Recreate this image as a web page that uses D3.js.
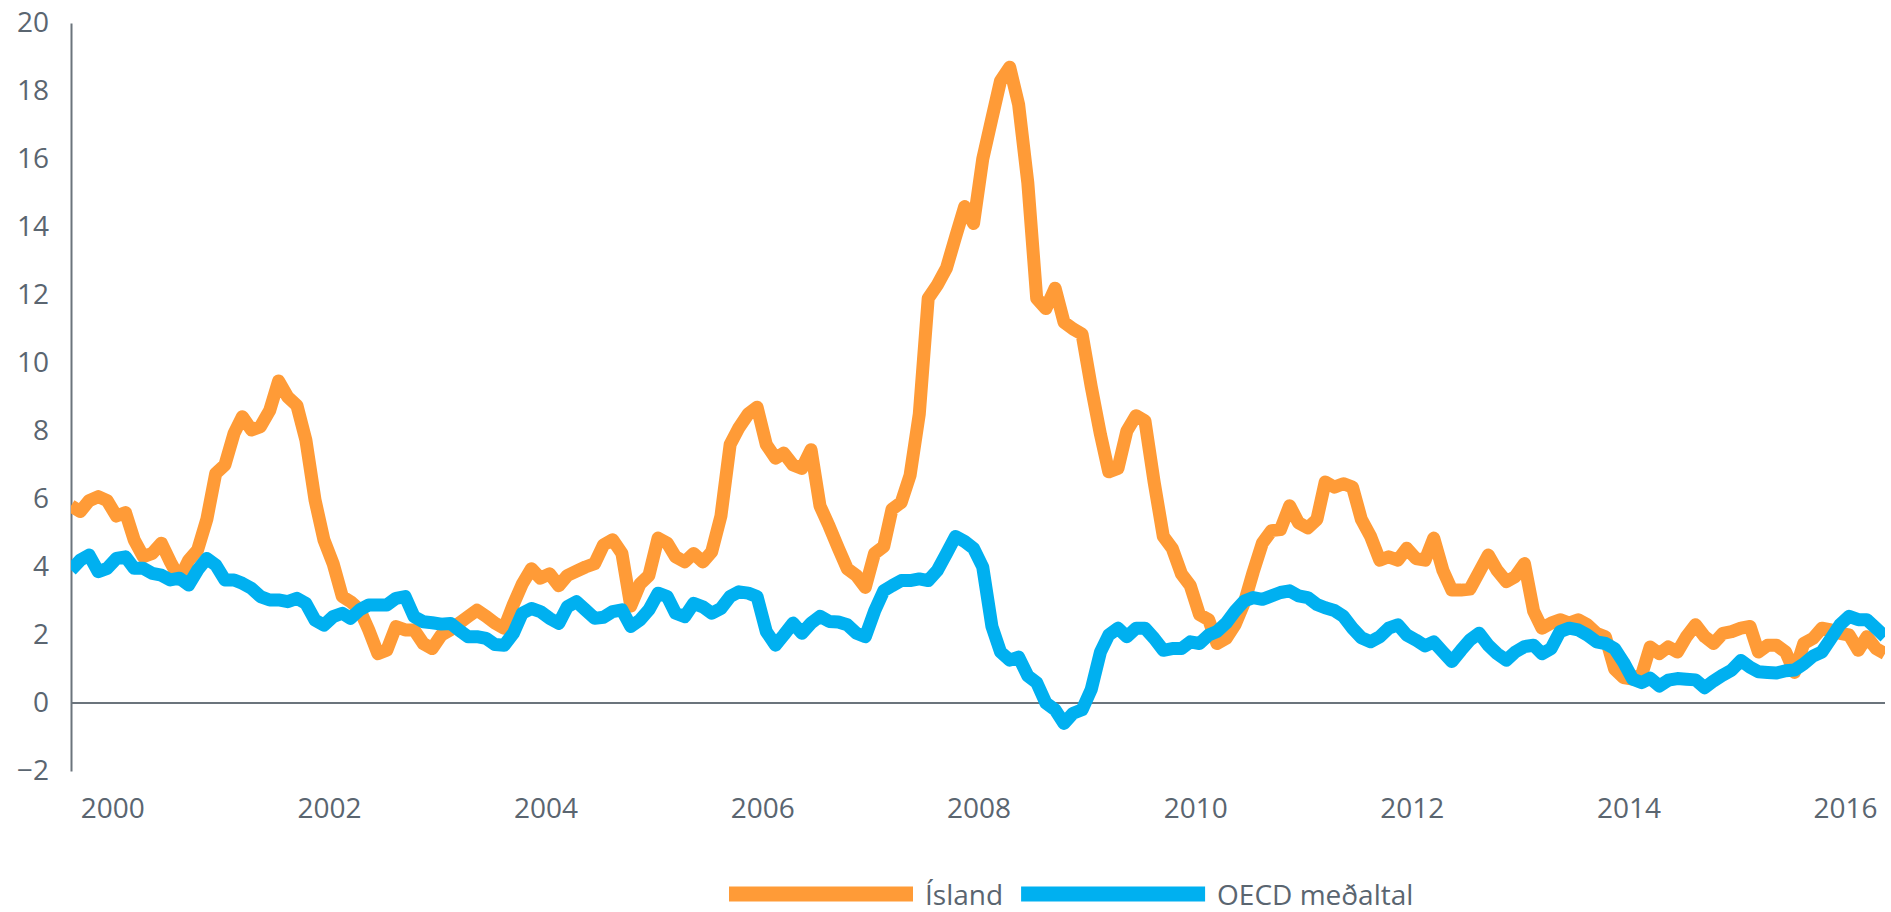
<!DOCTYPE html>
<html>
<head>
<meta charset="utf-8">
<script src="https://cdn.jsdelivr.net/npm/d3@7"></script>
<style>
  html, body { margin: 0; padding: 0; background: #fff; }
  svg { display: block; font-family: 'Open Sans', sans-serif; }
</style>
</head>
<body>
<div id="chart"></div>
<script>
// monthly series, first value is Aug 1999, last is May 2016
const firstMonth = new Date(1999, 7, 15)

const seriesNames = ['Ísland', 'OECD meðaltal']
const seriesColors = ['#FF9B37', '#00B0F0']
const yTicks = [-2, 0, 2, 4, 6, 8, 10, 12, 14, 16, 18, 20]

// Ísland, one row per year
const iceland = [
  5.8, 5.63, 5.95, 6.07, 5.95,
  5.5, 5.6, 4.8, 4.3, 4.4, 4.7, 4.15, 3.65, 4.2, 4.5, 5.4, 6.75,
  7.0, 7.93, 8.42, 8.03, 8.13, 8.6, 9.47, 9.0, 8.75, 7.74, 5.97, 4.8,
  4.1, 3.13, 2.98, 2.74, 2.15, 1.45, 1.55, 2.25, 2.15, 2.15, 1.75, 1.6,
  2.0, 2.15, 2.34, 2.54, 2.73, 2.55, 2.35, 2.2, 2.9, 3.5, 3.95, 3.67,
  3.8, 3.45, 3.75, 3.88, 4.0, 4.1, 4.65, 4.8, 4.4, 2.85, 3.5, 3.75,
  4.85, 4.7, 4.3, 4.15, 4.4, 4.15, 4.45, 5.5, 7.6, 8.1, 8.5, 8.7,
  7.6, 7.2, 7.35, 7.0, 6.9, 7.45, 5.8, 5.2, 4.55, 3.95, 3.75, 3.4,
  4.4, 4.6, 5.7, 5.9, 6.7, 8.5, 11.9, 12.3, 12.8, 13.7, 14.6, 14.1,
  16.0, 17.2, 18.3, 18.7, 17.6, 15.3, 11.9, 11.6, 12.2, 11.2, 11.0, 10.85,
  9.3, 7.9, 6.8, 6.9, 8.0, 8.45, 8.3, 6.5, 4.9, 4.55, 3.8, 3.45,
  2.6, 2.45, 1.75, 1.9, 2.3, 2.95, 3.85, 4.7, 5.07, 5.1, 5.8, 5.3,
  5.15, 5.4, 6.5, 6.35, 6.45, 6.35, 5.4, 4.9, 4.2, 4.3, 4.2, 4.55,
  4.25, 4.2, 4.85, 3.9, 3.32, 3.32, 3.35, 3.85, 4.35, 3.9, 3.57, 3.72,
  4.1, 2.7, 2.2, 2.35, 2.45, 2.35, 2.45, 2.3, 2.05, 1.95, 1.0, 0.75,
  0.7, 0.85, 1.65, 1.45, 1.65, 1.5, 1.95, 2.3, 1.95, 1.75, 2.05, 2.1,
  2.2, 2.25, 1.5, 1.7, 1.7, 1.5, 0.9, 1.75, 1.9, 2.2, 2.15, 2.05,
  2.0, 1.55, 1.95, 1.6, 1.45,
]

// OECD meðaltal, same months
const oecd = [
  3.91, 4.2, 4.35, 3.86, 3.96,
  4.25, 4.3, 3.96, 3.96, 3.81, 3.76, 3.62, 3.67, 3.47, 3.91, 4.25, 4.06,
  3.62, 3.62, 3.52, 3.37, 3.13, 3.03, 3.03, 2.98, 3.08, 2.93, 2.44, 2.29,
  2.54, 2.64, 2.49, 2.74, 2.88, 2.88, 2.88, 3.08, 3.13, 2.54, 2.39, 2.36,
  2.32, 2.34, 2.15, 1.95, 1.95, 1.9, 1.72, 1.7, 2.05, 2.64, 2.78, 2.69,
  2.49, 2.34, 2.83, 2.98, 2.74, 2.49, 2.52, 2.69, 2.74, 2.25, 2.44, 2.74,
  3.23, 3.13, 2.64, 2.54, 2.93, 2.83, 2.64, 2.78, 3.13, 3.27, 3.23, 3.13,
  2.1, 1.7, 2.0, 2.35, 2.05, 2.35, 2.55, 2.4, 2.38, 2.3, 2.05, 1.95,
  2.7, 3.3, 3.45, 3.6, 3.6, 3.65, 3.6, 3.9, 4.4, 4.9, 4.75, 4.55,
  4.0, 2.25, 1.5, 1.26, 1.35, 0.8, 0.6, 0.0, -0.2, -0.6, -0.3, -0.2,
  0.4, 1.5, 2.0, 2.2, 1.95, 2.2, 2.2, 1.9, 1.55, 1.6, 1.6, 1.8,
  1.75, 2.0, 2.1, 2.35, 2.7, 3.0, 3.1, 3.05, 3.15, 3.25, 3.3, 3.15,
  3.1, 2.9, 2.8, 2.72, 2.55, 2.2, 1.92, 1.8, 1.95, 2.2, 2.3, 2.0,
  1.85, 1.68, 1.8, 1.5, 1.22, 1.55, 1.85, 2.05, 1.7, 1.45, 1.26, 1.5,
  1.66, 1.7, 1.45, 1.6, 2.1, 2.2, 2.15, 2.0, 1.8, 1.75, 1.6, 1.2,
  0.7, 0.6, 0.73, 0.5, 0.67, 0.72, 0.7, 0.68, 0.45, 0.65, 0.82, 0.97,
  1.25, 1.05, 0.92, 0.9, 0.88, 0.95, 0.97, 1.15, 1.38, 1.5, 1.9, 2.3,
  2.55, 2.45, 2.45, 2.2, 1.95,
]

const series = [iceland, oecd]

const width = 1891
const height = 912
const margin = { top: 23, right: 6, bottom: 141, left: 71 }
const innerW = width - margin.left - margin.right
const innerH = height - margin.top - margin.bottom

const textColor = '#5A6570'
const axisColor = '#6B747C'

const dates = iceland.map((_, i) => d3.timeMonth.offset(firstMonth, i))

const svg = d3
  .select('#chart')
  .append('svg')
  .attr('width', width)
  .attr('height', height)

const chart = svg
  .append('g')
  .attr('transform', `translate(${margin.left},${margin.top})`)

// scales
const x = d3
  .scaleTime()
  .domain([dates[0], dates[dates.length - 1]])
  .range([0, innerW])

const y = d3.scaleLinear().domain([-2, 20]).range([innerH, 0])

// y axis, line plus labels
const yAxis = chart
  .append('g')
  .attr('class', 'y-axis')
  .call(
    d3.axisLeft(y).tickValues(yTicks).tickSize(0).tickSizeOuter(0).tickPadding(22),
  )
yAxis.select('.domain').attr('stroke', axisColor).attr('stroke-width', 2)
yAxis
  .selectAll('text')
  .style('font-size', '28px')
  .style('font-family', "'Open Sans', sans-serif")
  .attr('fill', textColor)
  .attr('dy', '0.3em')

// year labels under the plot
const xAxis = chart
  .append('g')
  .attr('class', 'x-axis')
  .attr('transform', `translate(0,${innerH})`)
  .call(
    d3
      .axisBottom(x)
      .ticks(d3.timeYear.every(2))
      .tickFormat(d3.timeFormat('%Y'))
      .tickSize(0)
      .tickPadding(27),
  )
xAxis.select('.domain').remove()
xAxis
  .selectAll('text')
  .style('font-size', '28px')
  .style('font-family', "'Open Sans', sans-serif")
  .attr('fill', textColor)

// horizontal axis line at zero
chart
  .append('line')
  .attr('class', 'zero-line')
  .attr('x1', 0)
  .attr('x2', innerW)
  .attr('y1', y(0))
  .attr('y2', y(0))
  .attr('stroke', axisColor)
  .attr('stroke-width', 2)

// keep the thick lines inside the plot area
chart
  .append('clipPath')
  .attr('id', 'plot-clip')
  .append('rect')
  .attr('x', 0)
  .attr('y', -20)
  .attr('width', innerW)
  .attr('height', innerH + 40)

const line = d3
  .line()
  .x((d, i) => x(dates[i]))
  .y(d => y(d))

chart
  .append('g')
  .attr('clip-path', 'url(#plot-clip)')
  .selectAll('.line-path')
  .data(series)
  .enter()
  .append('path')
  .attr('class', 'line-path')
  .attr('d', d => line(d))
  .attr('fill', 'none')
  .attr('stroke', (d, i) => seriesColors[i])
  .attr('stroke-width', 13)
  .attr('stroke-linejoin', 'round')
  .attr('stroke-linecap', 'butt')

// legend below the axis labels
const legend = svg.append('g').attr('class', 'legend').attr('transform', 'translate(729,894)')
let offset = 0
seriesNames.forEach((name, i) => {
  const item = legend.append('g').attr('transform', `translate(${offset},0)`)

  item
    .append('line')
    .attr('x1', 0)
    .attr('x2', 184)
    .attr('y1', 0)
    .attr('y2', 0)
    .attr('stroke', seriesColors[i])
    .attr('stroke-width', 15)

  const label = item
    .append('text')
    .attr('x', 196)
    .attr('y', 11)
    .text(name)
    .style('font-size', '28px')
    .attr('fill', textColor)

  offset += 196 + label.node().getComputedTextLength() + 18
})
</script>
</body>
</html>
